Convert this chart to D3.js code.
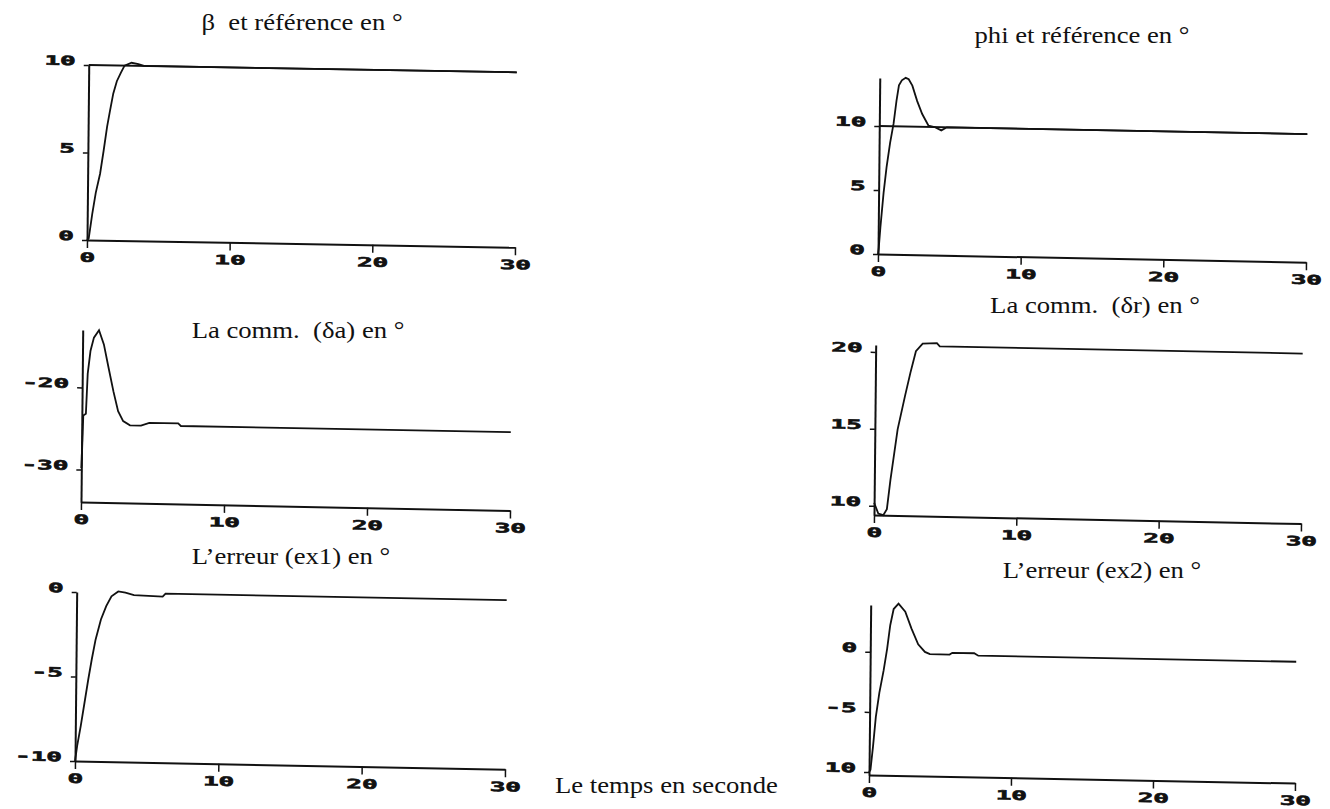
<!DOCTYPE html>
<html>
<head>
<meta charset="utf-8">
<script src="https://cdn.jsdelivr.net/npm/d3@7"></script>
<style>
  body { margin: 0; background: #fff; }
  svg { display: block; }
  .title { font-family: "Liberation Serif", "Times New Roman", serif; font-size: 23px; white-space: pre; fill: #111; }
</style>
</head>
<body>
<div id="chart"></div>
<script>
// time axis shared by all six plots
const timeTicks = [0, 10, 20, 30];

// beta and reference
const betaT = [0, 0.12, 0.35, 0.58, 0.87, 1.1, 1.33, 1.52, 1.74, 1.98, 2.26, 2.51, 3.0, 3.48, 3.87, 30];
const betaV = [0, 0.1, 1.5, 2.7, 3.8, 5.1, 6.5, 7.4, 8.4, 9.1, 9.6, 10.0, 10.17, 10.1, 10.0, 10.0];
const betaRef = 10;
const betaYTicks = [0, 5, 10];
const betaYLabels = ["0", "5", "10"];

// phi and reference
const phiT = [0, 0.05, 0.15, 0.35, 0.54, 0.77, 1.0, 1.19, 1.35, 1.55, 1.82, 2.03, 2.29, 2.64, 3.0, 3.45, 3.87, 4.35, 4.74, 30];
const phiV = [0, 0.5, 2.1, 4.8, 6.8, 8.7, 10.2, 12.0, 13.2, 13.6, 13.8, 13.7, 13.2, 12.0, 11.0, 10.1, 10.0, 9.75, 10.0, 10.0];
const phiRef = 10;
const phiYTicks = [0, 5, 10];
const phiYLabels = ["0", "5", "10"];

// command delta a
const daT = [0, 0.1, 0.28, 0.38, 0.56, 0.79, 1.14, 1.49, 1.83, 2.19, 2.53, 2.89, 3.37, 4.14, 4.72, 6.74, 6.93, 30];
const daV = [-29.8, -23.4, -23.2, -18.3, -15.5, -13.9, -13.0, -14.7, -17.5, -20.4, -22.8, -24.0, -24.5, -24.5, -24.15, -24.15, -24.45, -24.4];
const daYTicks = [-30, -20];
const daYLabels = ["-30", "-20"];

// command delta r
const drT = [0, 0.3, 0.65, 0.9, 1.13, 1.6, 2.1, 2.46, 2.83, 3.3, 4.3, 4.5, 30];
const drV = [10.2, 9.5, 9.4, 9.8, 11.7, 15, 17.2, 18.7, 20.1, 20.6, 20.65, 20.45, 20.45];
const drYTicks = [10, 15, 20];
const drYLabels = ["10", "15", "20"];

// error ex1
const e1T = [0, 0.14, 0.38, 0.63, 0.87, 1.1, 1.35, 1.71, 2.07, 2.43, 2.9, 3.4, 4.0, 6.0, 6.2, 30];
const e1V = [-10, -9.1, -7.9, -6.5, -5.15, -3.96, -2.8, -1.6, -0.8, -0.22, 0.08, 0.02, -0.12, -0.18, 0, 0];
const e1YTicks = [-10, -5, 0];
const e1YLabels = ["-10", "-5", "0"];

// error ex2
const e2T = [0, 0.1, 0.26, 0.44, 0.67, 0.96, 1.19, 1.39, 1.62, 1.96, 2.44, 2.89, 3.37, 3.85, 4.2, 5.59, 5.78, 7.32, 7.61, 30];
const e2V = [-10, -9.8, -7.9, -5.4, -3.4, -1.5, 0.3, 2.25, 3.6, 4.05, 3.4, 2.0, 0.7, 0.08, -0.1, -0.1, 0.05, 0.05, -0.15, -0.15];
const e2YTicks = [-10, -5, 0];
const e2YLabels = ["10", "-5", "0"];

const width = 1330, height = 809;

const svg = d3.select("#chart")
    .append("svg")
    .attr("width", width)
    .attr("height", height);

svg.append("rect").attr("width", width).attr("height", height).attr("fill", "#fff");

// layout of each scanned plot (pixel frame + slight scan tilt)
const panels = [
    { title: "β  et référence en °", tx: 302, ty: 30, t: betaT, v: betaV, ref: betaRef, yTicks: betaYTicks, yLabels: betaYLabels,
      yDomain: [0, 10], left: 87, right: 515, bottom: 240, top: 65, tilt: 0.017 },
    { title: "phi et référence en °", tx: 1082, ty: 43, t: phiT, v: phiV, ref: phiRef, yTicks: phiYTicks, yLabels: phiYLabels,
      yDomain: [0, 13.75], left: 878, right: 1306, bottom: 254, top: 78, tilt: 0.019 },
    { title: "La comm.  (δa) en °", tx: 298, ty: 338, t: daT, v: daV, ref: null, yTicks: daYTicks, yLabels: daYLabels,
      yDomain: [-33.95, -13.0], left: 81, right: 510, bottom: 502, top: 330, tilt: 0.02 },
    { title: "La comm.  (δr) en °", tx: 1095, ty: 313, t: drT, v: drV, ref: null, yTicks: drYTicks, yLabels: drYLabels,
      yDomain: [9.4, 20.45], left: 874, right: 1301, bottom: 515, top: 345, tilt: 0.02 },
    { title: "L’erreur (ex1) en °", tx: 291, ty: 564, t: e1T, v: e1V, ref: null, yTicks: e1YTicks, yLabels: e1YLabels,
      yDomain: [-10, 0], left: 75, right: 505, bottom: 761, top: 592, tilt: 0.019 },
    { title: "L’erreur (ex2) en °", tx: 1102, ty: 578, t: e2T, v: e2V, ref: null, yTicks: e2YTicks, yLabels: e2YLabels,
      yDomain: [-10.25, 3.9], left: 869, right: 1295, bottom: 775, top: 605, tilt: 0.019 }
];

const labelScale = 2.0;

panels.forEach(p => {
    const x = d3.scaleLinear().domain([0, 30]).range([p.left, p.right]);
    const y = d3.scaleLinear().domain(p.yDomain).range([p.bottom, p.top]);

    svg.append("text")
        .attr("class", "title")
        .attr("text-anchor", "middle")
        .attr("transform", `translate(${p.tx},${p.ty}) scale(1.16,1)`)
        .text(p.title);

    const g = svg.append("g")
        .attr("transform", `translate(${p.left},${p.bottom}) matrix(1,${p.tilt},-0.01,1,0,0) translate(${-p.left},${-p.bottom})`);

    const xAxis = g.append("g")
        .attr("transform", `translate(0,${p.bottom})`)
        .call(d3.axisBottom(x).tickValues(timeTicks).tickSize(8).tickSizeOuter(0).tickFormat(d3.format("d")));

    xAxis.selectAll("text")
        .attr("y", 22)
        .attr("dy", 0)
        .attr("transform", `scale(${labelScale},1)`);

    const yAxis = g.append("g")
        .attr("transform", `translate(${p.left},0)`)
        .call(d3.axisLeft(y).tickValues(p.yTicks).tickSize(5).tickSizeOuter(0).tickFormat((d, i) => p.yLabels[i]));

    yAxis.selectAll("text")
        .attr("x", -13 / labelScale)
        .attr("dy", 0)
        .attr("transform", `scale(${labelScale},1)`);

    [xAxis, yAxis].forEach(a => {
        a.attr("font-family", "'DejaVu Sans Mono', monospace")
            .attr("font-weight", "bold")
            .attr("font-size", 13);
        a.selectAll("text")
            .attr("fill", "#111")
            .attr("stroke", "#111")
            .attr("stroke-width", 0.6);
        a.select(".domain").attr("stroke", "#111").attr("stroke-width", 2);
        a.selectAll(".tick line").attr("stroke", "#111").attr("stroke-width", 1.5);
    });

    const line = d3.line()
        .x(d => x(d[0]))
        .y(d => y(d[1]));

    if (p.ref !== null) {
        g.append("path")
            .datum([[0, p.ref], [30, p.ref]])
            .attr("d", line)
            .attr("fill", "none")
            .attr("stroke", "#111")
            .attr("stroke-width", 1.8);
    }

    g.append("path")
        .datum(d3.zip(p.t, p.v))
        .attr("d", line)
        .attr("fill", "none")
        .attr("stroke", "#111")
        .attr("stroke-width", 1.8);
});

svg.append("text")
    .attr("class", "title")
    .attr("transform", "translate(555,793) scale(1.16,1)")
    .text("Le temps en seconde");
</script>
</body>
</html>
